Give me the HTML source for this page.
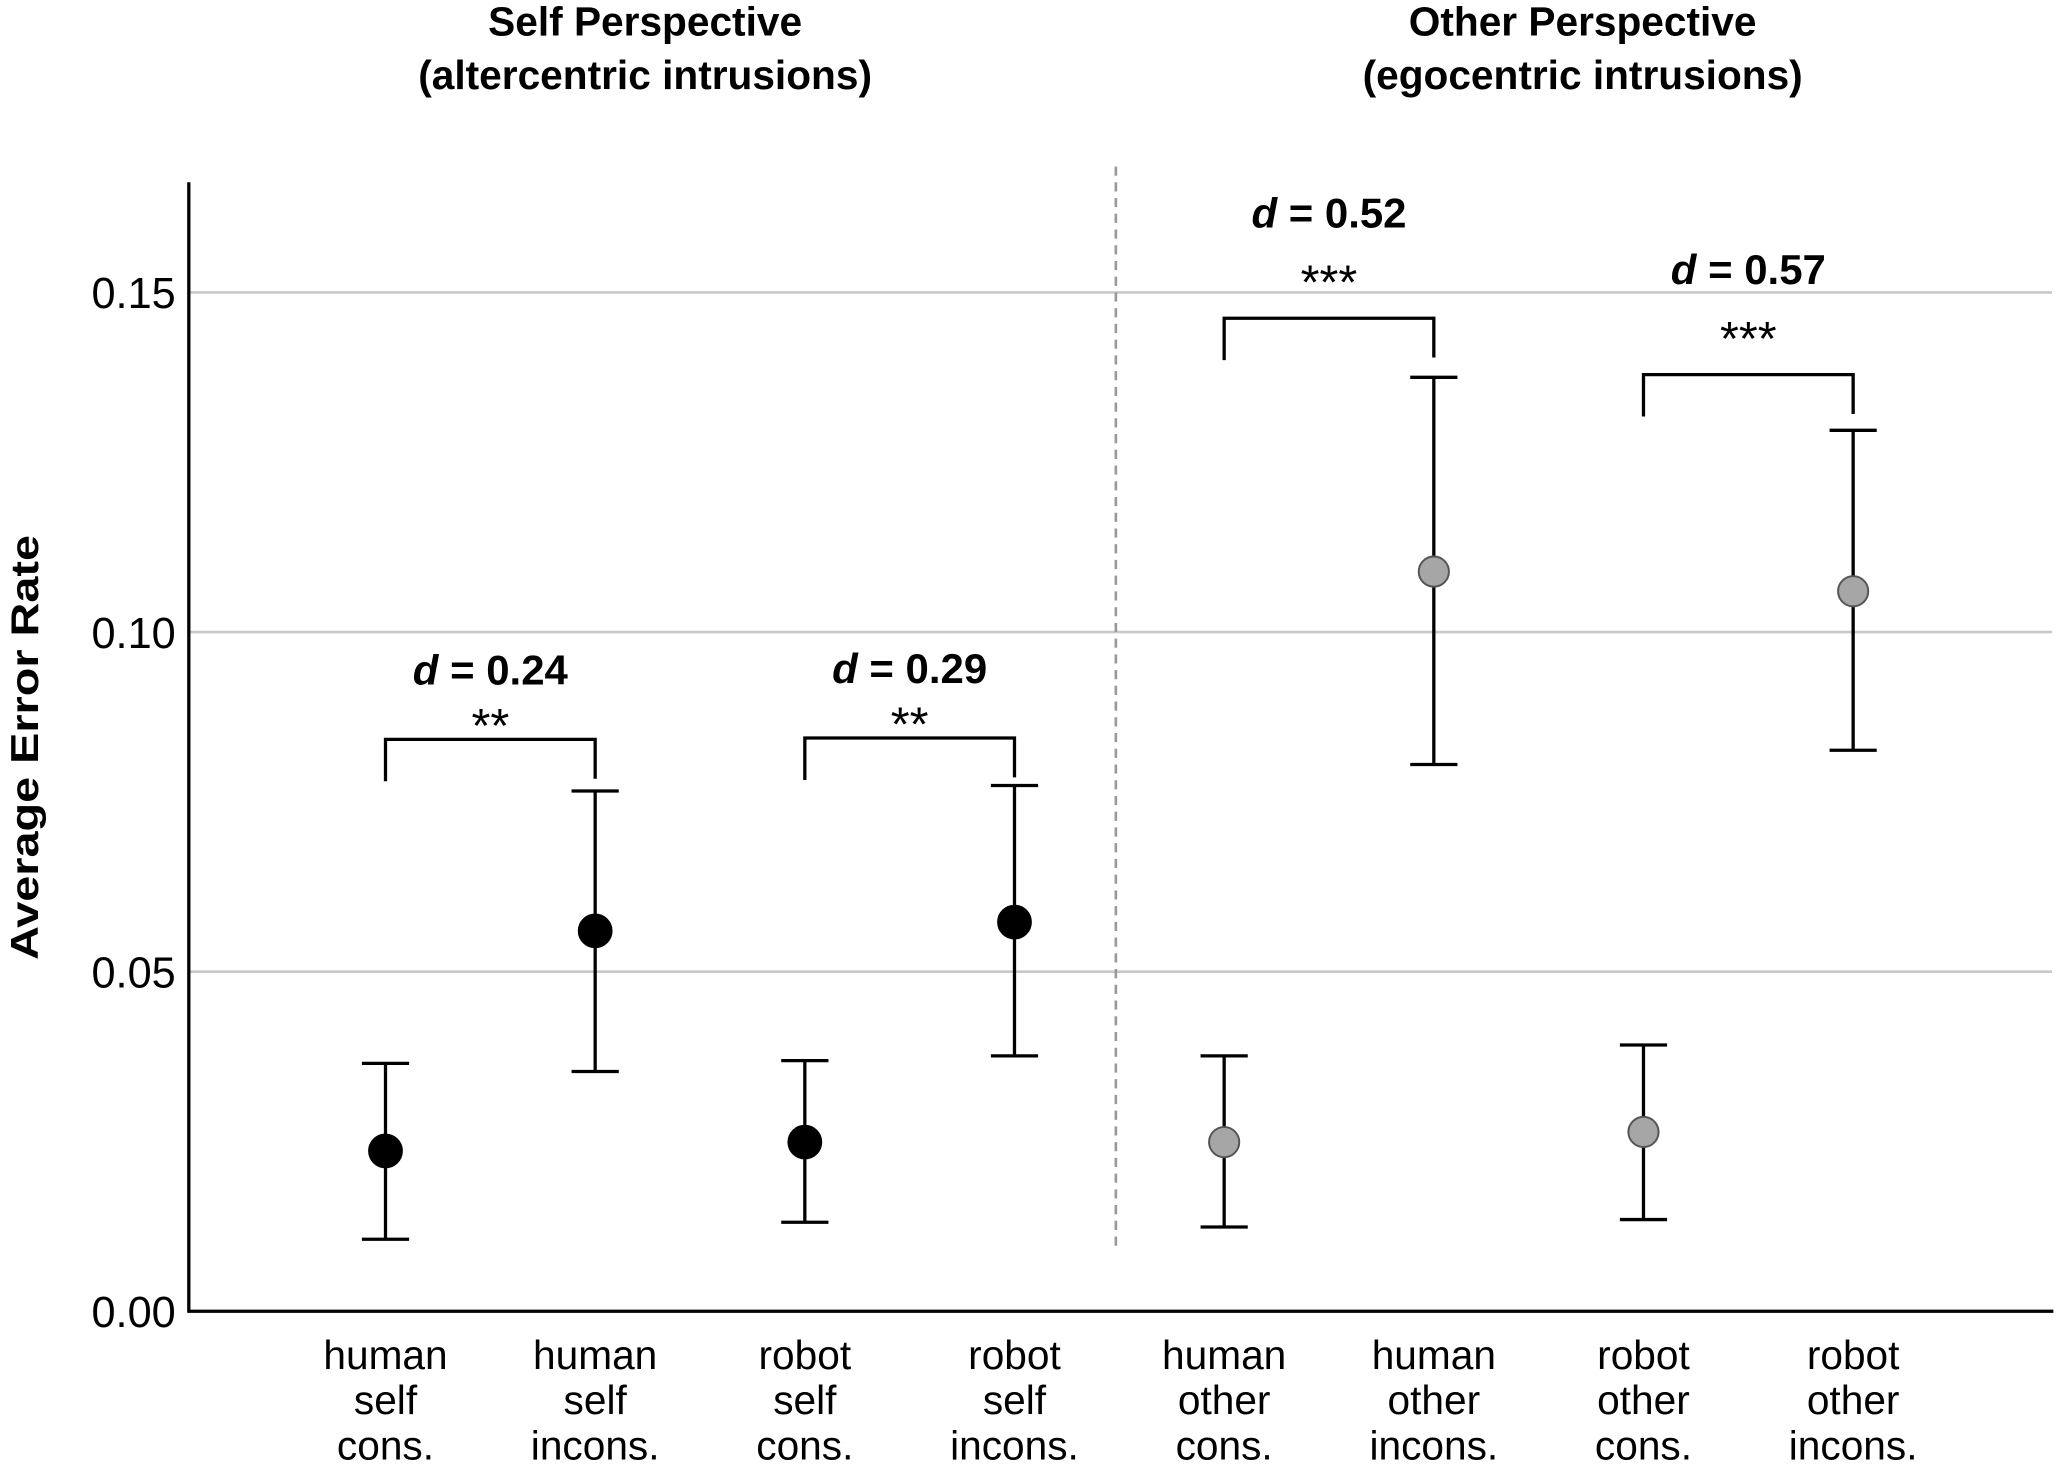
<!DOCTYPE html>
<html><head><meta charset="utf-8">
<style>
html,body{margin:0;padding:0;background:#fff;}
svg{display:block;}
text{font-family:"Liberation Sans",Arial,sans-serif;fill:#000;}
</style></head>
<body>
<svg id="chart" width="2056" height="1466" viewBox="0 0 1568 1118" preserveAspectRatio="none" xmlns="http://www.w3.org/2000/svg">
<g id="grid"></g>
<g id="axes"></g>
<g id="marks"></g>
<g id="annot"></g>
</svg>
<script>
const categories = ["human|self|cons.","human|self|incons.","robot|self|cons.","robot|self|incons.","human|other|cons.","human|other|incons.","robot|other|cons.","robot|other|incons."];
const means = [0.0236,0.0560,0.0249,0.0573,0.0249,0.1089,0.0264,0.1060];
const upper = [0.0365,0.0766,0.0369,0.0774,0.0376,0.1375,0.0392,0.1297];
const lower = [0.0106,0.0353,0.0131,0.0376,0.0124,0.0805,0.0135,0.0826];
const yTicks = [0.00,0.05,0.10,0.15];
const yTickLabels = ["0.00","0.05","0.10","0.15"];
const comparisons = [[0,1],[2,3],[4,5],[6,7]];
const bracketLevels = [0.0842,0.0844,0.1462,0.1379];
const effectSizes = ["0.24","0.29","0.52","0.57"];
const stars = ["**","**","***","***"];

const NS="http://www.w3.org/2000/svg";
function mk(tag,attrs,parent){const e=document.createElementNS(NS,tag);for(const k in attrs)e.setAttribute(k,attrs[k]);parent.appendChild(e);return e;}
const y=v=>1000-v*5180;
const x=i=>294+i*159.9;
const grid=document.getElementById('grid'),axes=document.getElementById('axes'),marks=document.getElementById('marks'),annot=document.getElementById('annot');

yTicks.forEach((t,i)=>{
  if(t>0){const g=mk('line',{x1:145,x2:1565,y1:y(t),y2:y(t),stroke:'#c8c8c8','stroke-width':2},grid);
  
  }
  const tl=mk('text',{x:134,y:y(t)+12,'text-anchor':'end','font-size':33},axes);
  tl.textContent=yTickLabels[i];
  
  
});
const ya=mk('line',{x1:144,x2:144,y1:139,y2:1001,stroke:'#000','stroke-width':2.5},axes);


const xa=mk('line',{x1:143,x2:1566,y1:1000,y2:1000,stroke:'#000','stroke-width':2.5},axes);


const dl=mk('line',{x1:851,x2:851,y1:127,y2:955,stroke:'#999','stroke-width':2,'stroke-dasharray':'7,5'},axes);


const yt=mk('text',{x:0,y:0,transform:'translate(29,570) rotate(-90)','text-anchor':'middle','font-size':30,'font-weight':'bold',textLength:324,lengthAdjust:'spacingAndGlyphs'},axes);
yt.textContent='Average Error Rate';



[["Self Perspective","(altercentric intrusions)",492],["Other Perspective","(egocentric intrusions)",1207]].forEach((p,k)=>{
  const a=mk('text',{x:p[2],y:27,'text-anchor':'middle','font-size':31,'font-weight':'bold'},annot);a.textContent=p[0];
  
  
  const b=mk('text',{x:p[2],y:68,'text-anchor':'middle','font-size':31,'font-weight':'bold'},annot);b.textContent=p[1];
  
  
});

categories.forEach((c,i)=>{
  c.split('|').forEach((w,j)=>{
    const t=mk('text',{x:x(i),y:1044+j*34.5,'text-anchor':'middle','font-size':31},axes);t.textContent=w;
    
    
  });
  const g=mk('g',{},marks);
  
  
  mk('line',{x1:x(i),x2:x(i),y1:y(upper[i]),y2:y(lower[i]),stroke:'#000','stroke-width':2.5},g);
  mk('line',{x1:x(i)-18,x2:x(i)+18,y1:y(upper[i]),y2:y(upper[i]),stroke:'#000','stroke-width':2.5},g);
  mk('line',{x1:x(i)-18,x2:x(i)+18,y1:y(lower[i]),y2:y(lower[i]),stroke:'#000','stroke-width':2.5},g);
  const other=i>=4;
  const pt=mk('circle',{cx:x(i),cy:y(means[i]),r:other?11.5:12.5,fill:other?'#a6a6a6':'#000',stroke:other?'#555':'#000','stroke-width':1.5},marks);
  
  
});

comparisons.forEach((cp,k)=>{
  const a=cp[0],b=cp[1];
  const by=y(bracketLevels[k]);
  const br=mk('path',{d:`M${x(a)} ${by+32} V${by} H${x(b)} V${by+30}`,fill:'none',stroke:'#000','stroke-width':2.5},annot);
  
  
  const cx=(x(a)+x(b))/2;
  const st=mk('text',{x:cx,y:by+(k<2?2:-15),'text-anchor':'middle','font-size':37},annot);st.textContent=stars[k];
  
  
  const d=mk('text',{x:cx,y:by-(k<2?42:69),'text-anchor':'middle','font-size':32,'font-weight':'bold'},annot);
  d.innerHTML='<tspan font-style="italic">d</tspan> = '+effectSizes[k];
  
  
});
</script>
</body></html>
